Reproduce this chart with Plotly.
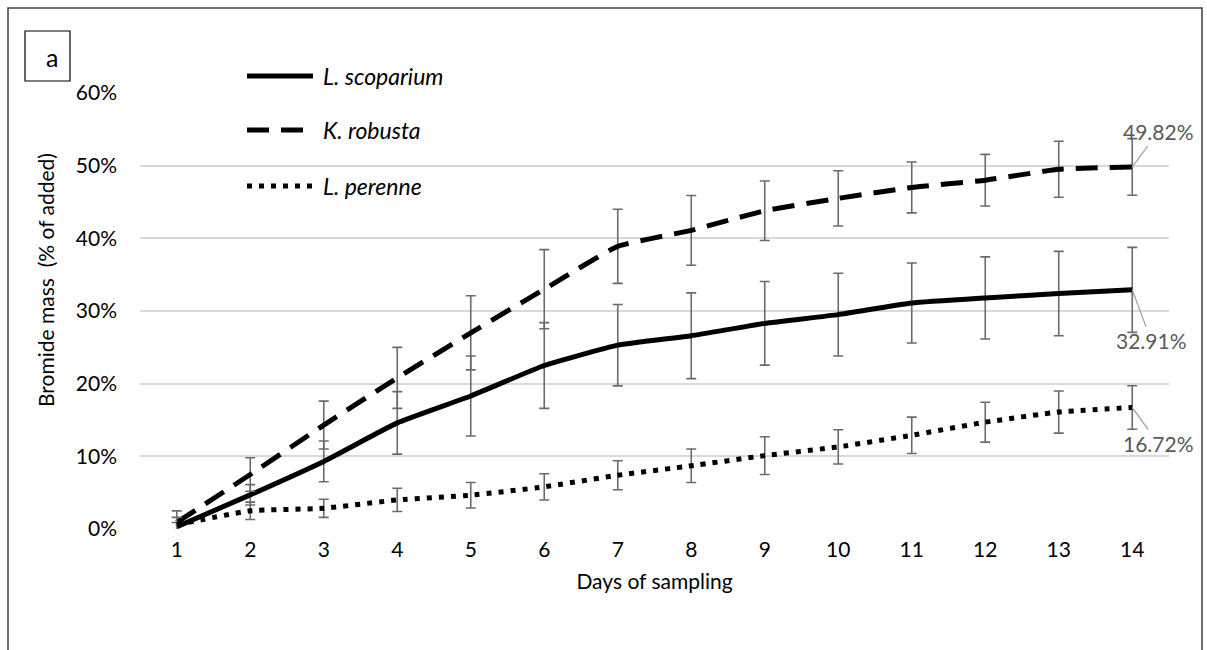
import plotly.graph_objects as go

# Sampling days and cumulative bromide recovered (% of added), mean ± error
days = list(range(1, 15))
day_labels = [str(d) for d in days]

scoparium = [0.3, 4.7, 9.3, 14.6, 18.3, 22.5, 25.3, 26.6, 28.3, 29.5, 31.1, 31.8, 32.4, 32.91]
scoparium_err = [0.6, 1.4, 2.8, 4.3, 5.5, 5.9, 5.6, 5.9, 5.75, 5.7, 5.5, 5.65, 5.8, 5.85]

robusta = [0.9, 7.5, 14.3, 20.8, 27.0, 33.0, 38.9, 41.1, 43.8, 45.5, 47.0, 48.0, 49.5, 49.82]
robusta_err = [1.6, 2.3, 3.3, 4.2, 5.1, 5.45, 5.1, 4.8, 4.1, 3.8, 3.5, 3.55, 3.85, 3.9]

perenne = [0.6, 2.5, 2.85, 4.0, 4.65, 5.8, 7.4, 8.7, 10.1, 11.3, 12.9, 14.7, 16.1, 16.72]
perenne_err = [1.0, 1.2, 1.25, 1.6, 1.75, 1.8, 2.0, 2.3, 2.6, 2.35, 2.5, 2.75, 2.9, 3.0]

species = ["L. scoparium", "K. robusta", "L. perenne"]
y_ticks = [0, 10, 20, 30, 40, 50, 60]
y_tick_labels = ["0%", "10%", "20%", "30%", "40%", "50%", "60%"]

FONT = "Lato"
FS = 21
W, H = 1207, 650
L, R, T, B = 140, 38, 93, 121

series = [
    (scoparium, scoparium_err, "solid"),
    (robusta, robusta_err, "22px,12px"),
    (perenne, perenne_err, "5px,7px"),
]

fig = go.Figure()
for name, (vals, errs, dash) in zip(species, series):
    fig.add_trace(go.Scatter(
        x=days, y=vals, name=name, mode="lines",
        line=dict(color="black", width=5, dash=dash, shape="spline", smoothing=0.4),
        error_y=dict(type="data", array=errs, visible=True,
                     color="#6b6b6b", thickness=1.6, width=5),
        showlegend=False,
    ))


def px(x):
    return (x - L) / (W - L - R)


def py(y):
    return 1 - (y - T) / (H - T - B)


# Legend drawn as line samples and italic labels inside the plot area
legend_rows = [76, 130, 186]
shapes = []
annotations = []
for name, (_, _, dash), yy in zip(species, series, legend_rows):
    shapes.append(dict(type="line", xref="paper", yref="paper",
                       x0=px(247), x1=px(313), y0=py(yy), y1=py(yy),
                       line=dict(color="black", width=5, dash=dash)))
    annotations.append(dict(xref="paper", yref="paper", x=px(321), y=py(yy),
                            xanchor="left", yanchor="middle", showarrow=False,
                            text="<i>%s</i>" % name,
                            font=dict(family=FONT, size=23, color="black")))

# End-point value labels with leader lines
end_labels = [
    (robusta[-1], 26, -35),
    (scoparium[-1], 19, 51),
    (perenne[-1], 26, 36),
]
for val, ax, ay in end_labels:
    annotations.append(dict(x=days[-1], y=val, xref="x", yref="y",
                            text="%.2f%%" % val, showarrow=True,
                            arrowhead=0, arrowwidth=1.3, arrowcolor="#a6a6a6",
                            ax=ax, ay=ay, standoff=0,
                            font=dict(family=FONT, size=FS, color="#595959")))

# Panel tag
shapes.append(dict(type="rect", xref="paper", yref="paper",
                   x0=px(25), x1=px(70), y0=py(31), y1=py(81),
                   line=dict(color="black", width=1.2), fillcolor="white"))
annotations.append(dict(xref="paper", yref="paper", x=px(52), y=py(57),
                        text="a", showarrow=False, xanchor="center", yanchor="middle",
                        font=dict(family=FONT, size=25, color="black")))

# Outer frame
shapes.append(dict(type="rect", xref="paper", yref="paper",
                   x0=px(8), x1=px(1202), y0=py(8), y1=py(700),
                   line=dict(color="#404040", width=1.5)))

# Y-axis title
annotations.append(dict(xref="paper", yref="paper", x=px(45), y=py(280),
                        text="Bromide mass  (% of added)", textangle=-90,
                        showarrow=False, xanchor="center", yanchor="middle",
                        font=dict(family=FONT, size=FS, color="black")))

fig.update_layout(
    width=W, height=H,
    margin=dict(l=L, r=R, t=T, b=B),
    paper_bgcolor="white", plot_bgcolor="white",
    font=dict(family=FONT, size=FS, color="black"),
    shapes=shapes, annotations=annotations,
    showlegend=False,
)
fig.update_xaxes(
    type="linear", range=[0.5, 14.5], tickvals=days, ticktext=day_labels,
    showgrid=False, zeroline=False, showline=False, ticks="",
    ticklabelstandoff=6,
    title=dict(text="Days of sampling", font=dict(family=FONT, size=FS), standoff=14),
)
fig.update_yaxes(
    range=[0, 60], tickvals=y_ticks, ticktext=y_tick_labels,
    showgrid=True, gridcolor="#d9d9d9", gridwidth=1.5,
    zeroline=False, showline=False, ticks="", ticklabelstandoff=22,
)

fig.write_html("out.html")
